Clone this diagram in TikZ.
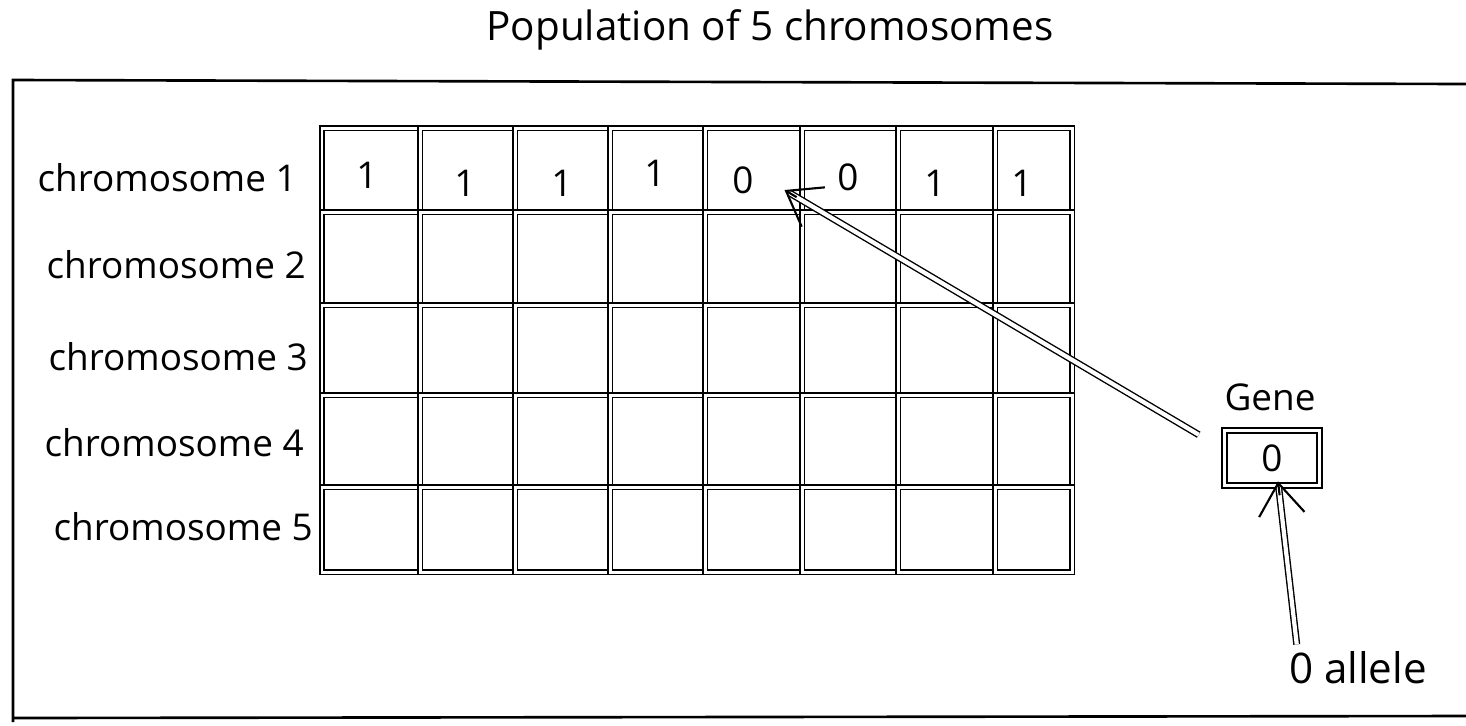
\documentclass[tikz,border=0pt]{standalone}
\usepackage{fontspec}
\setmainfont{Open Sans}
\usetikzlibrary{arrows.meta,fit,calc}
\begin{document}
\begin{tikzpicture}[x=0.02cm,y=-0.02cm,
  font=\fontsize{21}{25}\selectfont,
  dbl/.style={draw, line width=0.9pt, double, double distance=1.7pt},
  frame/.style={draw, line width=1.5pt},
  txt/.style={inner sep=0pt},
  lbl/.style={anchor=east, inner sep=0pt},
  shaft/.style={draw, line width=0.8pt, double, double distance=2.4pt},
  head/.style={draw, line width=1.2pt, -{Straight Barb[length=18pt,width=26pt]}}
]
\useasboundingbox (0,0) rectangle (1466,725);
% frame
\draw[frame] (1466,84) -- (13,80) -- (13,722);
\draw[frame] (13,718) -- (1466,716);
% title
\node[txt, font=\fontsize{23}{27}\selectfont] (title) at (770,30) {Population of 5 chromosomes};
% grid
\def\X{{322,420,515,610,705,802,898,995,1072}}
\def\Y{{128,212,305,395,487,572}}
\foreach \r in {1,...,5}{
  \foreach \c in {1,...,8}{
    \pgfmathsetmacro\xa{\X[\c-1]}
    \pgfmathsetmacro\xb{\X[\c]}
    \pgfmathsetmacro\ya{\Y[\r-1]}
    \pgfmathsetmacro\yb{\Y[\r]}
    \node[dbl, inner sep=0pt, fit={(\xa,\ya)(\xb,\yb)}] (c\r\c) {};
  }
}
% row labels
\node[lbl] (r1) at (297,178) {chromosome 1};
\node[lbl] (r2) at (306,265) {chromosome 2};
\node[lbl] (r3) at (308,357) {chromosome 3};
\node[lbl] (r4) at (304,443) {chromosome 4};
\node[lbl] (r5) at (313,527) {chromosome 5};
% alleles of chromosome 1
\node[txt] (d1) at (367,175) {1};
\node[txt] (d2) at (465,183) {1};
\node[txt] (d3) at (562,183) {1};
\node[txt] (d4) at (655,173) {1};
\node[txt] (d5) at (743,180) {0};
\node[txt] (d6) at (848,177) {0};
\node[txt] (d7) at (935,183) {1};
\node[txt] (d8) at (1022,183) {1};
% gene
\node[txt] (genelbl) at (1270,397) {Gene};
\node[dbl, minimum width=1.9cm, minimum height=1.1cm, inner sep=0pt] (gene) at (1272,458) {0};
\node[txt, font=\fontsize{24}{28}\selectfont] (allele) at (1358,668) {0 allele};
% arrow gene -> chromosome cell
\coordinate (gtail) at ($(gene.north west)+(-25,5)$);
\coordinate (gtip) at ($(c15.center)+(31,20)$);
\draw[shaft, shorten >=3pt] (gtail) -- (gtip);
\draw[head] ($(gtip)!8pt!(gtail)$) -- (gtip);
% arrow allele -> gene
\coordinate (atail) at ($(allele.north west)+(8,-7)$);
\coordinate (atip) at ($(gene.south)+(6,-5)$);
\draw[shaft, shorten >=3pt] (atail) -- (atip);
\draw[head] ($(atip)!8pt!(atail)$) -- (atip);
\end{tikzpicture}
\end{document}
